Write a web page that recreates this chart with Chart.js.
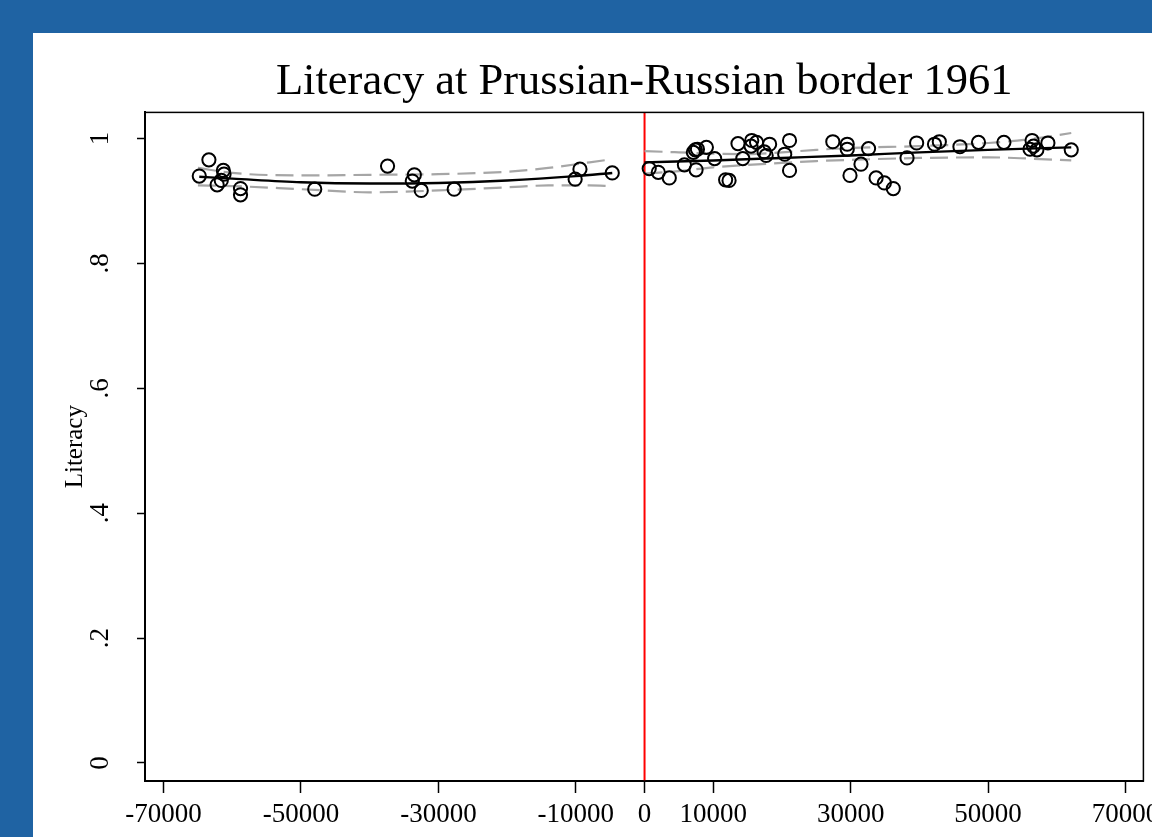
<!DOCTYPE html>
<html>
<head>
<meta charset="utf-8">
<title>Literacy at Prussian-Russian border 1961</title>
<script src="https://cdn.jsdelivr.net/npm/chart.js@4.4.1/dist/chart.umd.min.js"></script>
<style>
  html, body { margin: 0; padding: 0; }
  body { width: 1152px; height: 837px; background: #1f63a3; position: relative; overflow: hidden; }
  #panel { position: absolute; left: 33px; top: 33px; right: 0; bottom: 0; background: #ffffff; }
  #wrap { position: absolute; left: 0; top: 0; width: 1152px; height: 837px; }
</style>
</head>
<body>
<div id="panel"></div>
<div id="wrap"><canvas id="chart" width="1152" height="837"></canvas></div>
<script>
// Distance to the border (metres) and literacy share per municipality, 1961
const westX = [-64800, -63400, -62200, -61300, -61200, -61600, -58800, -58800, -48000,
               -37400, -33500, -33800, -32500, -27700, -9400, -10100, -4700];
const westY = [0.940, 0.966, 0.926, 0.949, 0.943, 0.933, 0.920, 0.910, 0.919,
               0.956, 0.942, 0.932, 0.917, 0.919, 0.951, 0.935, 0.945];

const eastX = [680, 2000, 3600, 5800, 7100, 7400, 7700, 9000, 10200, 7500,
               11800, 12300, 13600, 14300, 15600, 15500, 16300, 18200, 17400, 17700,
               21100, 20400, 21100, 27400, 29500, 29500, 32600, 31500, 29900, 33700,
               34900, 36200, 38200, 39600, 42200, 42900, 45900, 48600, 52300, 56400,
               56100, 57100, 56600, 58700, 62100];
const eastY = [0.952, 0.946, 0.937, 0.958, 0.978, 0.982, 0.983, 0.986, 0.968, 0.950,
               0.934, 0.933, 0.992, 0.968, 0.997, 0.988, 0.994, 0.991, 0.979, 0.973,
               0.997, 0.975, 0.949, 0.995, 0.991, 0.983, 0.984, 0.959, 0.941, 0.937,
               0.929, 0.920, 0.969, 0.993, 0.991, 0.995, 0.987, 0.994, 0.994, 0.997,
               0.983, 0.982, 0.988, 0.993, 0.982];

// Quadratic fit and 95% confidence band, west of the border
const westFitX = [-64800, -60000, -50000, -40000, -30000, -20000, -10000, -4700];
const westFitY = [0.939, 0.936, 0.930, 0.928, 0.929, 0.933, 0.940, 0.945];
const westBandX = [-65000, -60000, -50000, -40000, -30000, -20000, -14000, -8000, -4700];
const westHiY = [0.953, 0.945, 0.941, 0.942, 0.943, 0.947, 0.953, 0.962, 0.967];
const westLoY = [0.925, 0.924, 0.919, 0.914, 0.917, 0.922, 0.925, 0.925, 0.924];

// Quadratic fit and 95% confidence band, east of the border
const eastFitX = [0, 10000, 20000, 30000, 40000, 50000, 62100];
const eastFitY = [0.962, 0.965, 0.969, 0.973, 0.978, 0.982, 0.986];
const eastBandX = [0, 5000, 10000, 15000, 20000, 25000, 30000, 40000, 50000, 56000, 62100];
const eastHiY = [0.980, 0.978, 0.976, 0.975, 0.978, 0.982, 0.985, 0.988, 0.993, 0.999, 1.009];
const eastLoY = [0.944, 0.948, 0.954, 0.958, 0.961, 0.964, 0.966, 0.969, 0.970, 0.968, 0.965];

// Axis ticks
const xTicks = [-70000, -50000, -30000, -10000, 0, 10000, 30000, 50000, 70000];
const yTicks = [0, 0.2, 0.4, 0.6, 0.8, 1];
const yTickLabels = ['0', '.2', '.4', '.6', '.8', '1'];

const X_MIN = -72700, X_MAX = 72600;
const Y_MIN = -0.029, Y_MAX = 1.042;
const BORDER_X = 0;

const pts = (xs, ys) => xs.map((x, i) => ({ x: x, y: ys[i] }));

const SERIF = '"Liberation Serif", "DejaVu Serif", serif';

const circleStyle = {
  type: 'scatter',
  showLine: false,
  pointStyle: 'circle',
  pointRadius: 6.6,
  pointHoverRadius: 6.6,
  pointBorderWidth: 2,
  pointBorderColor: '#000000',
  pointBackgroundColor: 'rgba(0,0,0,0)'
};
const fitStyle = {
  type: 'line',
  borderColor: '#000000',
  borderWidth: 2.4,
  pointRadius: 0,
  fill: false,
  tension: 0.4,
  cubicInterpolationMode: 'monotone'
};
const bandStyle = {
  type: 'line',
  borderColor: '#a6a6a6',
  borderWidth: 2.2,
  borderDash: [18, 8],
  pointRadius: 0,
  fill: false,
  tension: 0.4,
  cubicInterpolationMode: 'monotone'
};

// Plot frame around the chart area
const framePlugin = {
  id: 'plotFrame',
  afterDraw(chart) {
    const { ctx, chartArea: a } = chart;
    ctx.save();
    ctx.strokeStyle = '#000000';
    ctx.lineWidth = 1.5;
    ctx.strokeRect(a.left, a.top, a.right - a.left, a.bottom - a.top);
    ctx.restore();
  }
};

new Chart(document.getElementById('chart'), {
  data: {
    datasets: [
      Object.assign({ label: 'West', data: pts(westX, westY) }, circleStyle),
      Object.assign({ label: 'East', data: pts(eastX, eastY) }, circleStyle),
      Object.assign({ label: 'West fit', data: pts(westFitX, westFitY) }, fitStyle),
      Object.assign({ label: 'East fit', data: pts(eastFitX, eastFitY) }, fitStyle),
      Object.assign({ label: 'West upper', data: pts(westBandX, westHiY) }, bandStyle),
      Object.assign({ label: 'West lower', data: pts(westBandX, westLoY) }, bandStyle),
      Object.assign({ label: 'East upper', data: pts(eastBandX, eastHiY) }, bandStyle),
      Object.assign({ label: 'East lower', data: pts(eastBandX, eastLoY) }, bandStyle),
      {
        type: 'line', label: 'Border',
        data: [{ x: BORDER_X, y: Y_MIN }, { x: BORDER_X, y: Y_MAX }],
        borderColor: '#ff0000', borderWidth: 2, pointRadius: 0, fill: false
      }
    ]
  },
  options: {
    responsive: false,
    animation: false,
    events: [],
    layout: { padding: { left: 0, right: 2, top: 0, bottom: 0 } },
    plugins: {
      legend: { display: false },
      tooltip: { enabled: false },
      title: {
        display: true,
        text: 'Literacy at Prussian-Russian border 1961',
        fullSize: false,
        color: '#000000',
        font: { family: SERIF, size: 44.5, weight: 'normal', lineHeight: 1.2 },
        padding: { top: 56, bottom: 3 }
      }
    },
    scales: {
      x: {
        type: 'linear',
        min: X_MIN, max: X_MAX,
        afterBuildTicks: (s) => { s.ticks = xTicks.map(v => ({ value: v })); },
        afterFit: (s) => { s.height = 56; s.paddingLeft = 0; s.paddingRight = 0; },
        ticks: {
          autoSkip: false, maxRotation: 0, minRotation: 0,
          padding: 6, color: '#000000',
          font: { family: SERIF, size: 27 },
          callback: (v) => String(v)
        },
        grid: { display: true, drawOnChartArea: false, drawTicks: true, tickLength: 12, tickWidth: 1.5, tickColor: '#000000' },
        border: { display: true, color: '#000000', width: 2 }
      },
      y: {
        type: 'linear',
        min: Y_MIN, max: Y_MAX,
        afterBuildTicks: (s) => { s.ticks = yTicks.map(v => ({ value: v })); },
        afterFit: (s) => { s.width = 145; s.paddingTop = 0; s.paddingBottom = 0; },
        ticks: {
          autoSkip: false, minRotation: 90, maxRotation: 90,
          crossAlign: 'center',
          padding: 26, color: '#000000',
          font: { family: SERIF, size: 27 },
          callback: (v) => { const i = yTicks.indexOf(v); return i >= 0 ? yTickLabels[i] : ''; }
        },
        grid: { display: true, drawOnChartArea: false, drawTicks: true, tickLength: 8, tickWidth: 1.5, tickColor: '#000000' },
        border: { display: true, color: '#000000', width: 2 },
        title: {
          display: true, text: 'Literacy', color: '#000000',
          font: { family: SERIF, size: 25, lineHeight: 1.2 },
          padding: { top: 60, bottom: 0 }
        }
      }
    }
  },
  plugins: [framePlugin]
});
</script>
</body>
</html>
